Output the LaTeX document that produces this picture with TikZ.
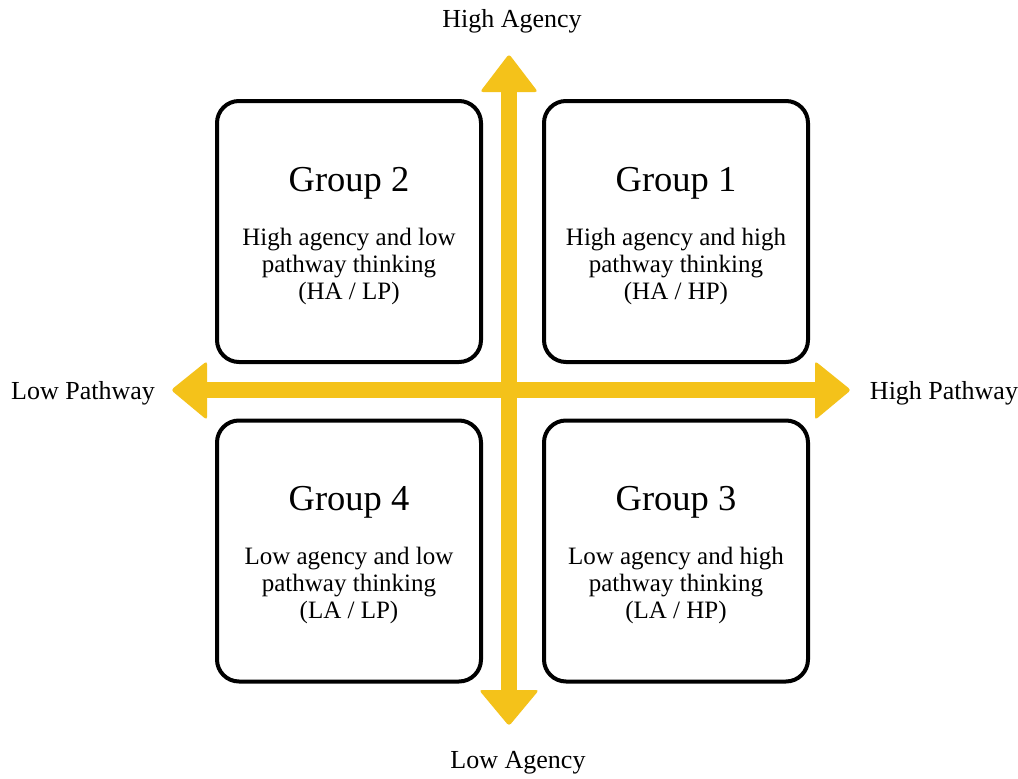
\documentclass[tikz,border=0pt]{standalone}
\usepackage{fontspec}
\setmainfont{Liberation Serif}
\definecolor{axisyellow}{HTML}{F4C21A}
\begin{document}
\begin{tikzpicture}[x=1pt,y=-1pt,
 group/.style={draw=black, line width=4pt, rounded corners=22pt, minimum width=264pt, minimum height=261pt, inner sep=0pt},
 grouptitle/.style={font=\fontsize{36.5}{40}\selectfont},
 body/.style={font=\fontsize{25}{27}\selectfont, align=center},
 axislabel/.style={font=\fontsize{26}{28}\selectfont},
 axisline/.style={draw=axisyellow, line width=16pt},
 axishead/.style={fill=axisyellow, rounded corners=3pt}]
\fill[white] (0,0) rectangle (1018,779);
\useasboundingbox (0,0) rectangle (1018,779);

% axes
\coordinate (topbase) at (509,91);
\coordinate (bottombase) at (509,691);
\coordinate (leftbase) at (206,390);
\coordinate (rightbase) at (816,390);
\draw[axisline] (topbase) -- (bottombase);
\draw[axisline] (leftbase) -- (rightbase);
\fill[axishead] (480,92) -- (509,54) -- (538,92) -- cycle;
\fill[axishead] (479,690) -- (509,726) -- (539,690) -- cycle;
\fill[axishead] (207,361) -- (171,390) -- (207,420) -- cycle;
\fill[axishead] (815,361) -- (851,390) -- (815,420) -- cycle;

% boxes
\node[group] (g2) at (349,231.5) {};
\node[group] (g1) at (676,231.5) {};
\node[group] (g4) at (349,551) {};
\node[group] (g3) at (676,551) {};

\node[grouptitle] (t2) at (349,183) {Group 2};
\node[grouptitle] (t1) at (676,183) {Group 1};
\node[grouptitle] (t4) at (349,502) {Group 4};
\node[grouptitle] (t3) at (676,502) {Group 3};

\node[body] (b2) at (349,266) {High agency and low\\pathway thinking\\(HA / LP)};
\node[body] (b1) at (676,266) {High agency and high\\pathway thinking\\(HA / HP)};
\node[body] (b4) at (349,585) {Low agency and low\\pathway thinking\\(LA / LP)};
\node[body] (b3) at (676,585) {Low agency and high\\pathway thinking\\(LA / HP)};

% axis labels
\node[axislabel] (hagency) at (512,21) {High Agency};
\node[axislabel] (lagency) at (518,763) {Low Agency};
\node[axislabel] (lpath) at (83,393) {Low Pathway};
\node[axislabel] (hpath) at (944,393) {High Pathway};
\end{tikzpicture}
\end{document}
